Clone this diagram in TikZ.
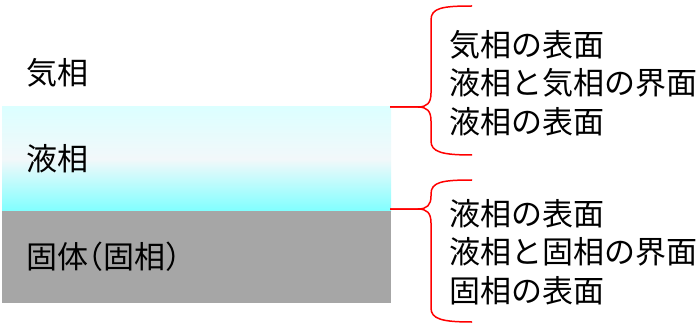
\documentclass[tikz,border=0pt]{standalone}
\usepackage{fontspec}
\newfontfamily\jpfont{Noto Sans CJK JP}
\definecolor{liqtop}{RGB}{220,255,255}
\definecolor{liqmid}{RGB}{242,248,250}
\definecolor{liqbot}{RGB}{128,255,255}
\definecolor{solidgray}{RGB}{166,166,166}
\definecolor{bracered}{RGB}{255,0,0}
\begin{document}
\begin{tikzpicture}[x=1pt,y=-1pt,
  lbl/.style={font=\jpfont\fontsize{31}{38.5}\selectfont, inner sep=0pt, anchor=west, align=left},
  brace/.style={draw=bracered, line width=1.5pt, line join=round}]
\useasboundingbox (0,0) rectangle (698,323);
% layers
\shade[top color=liqtop, bottom color=liqbot, middle color=liqmid, shading angle=0] (2,107) rectangle (391,211);
\fill[solidgray] (2,211) rectangle (391,303);
% labels
\node[lbl] (gas) at (26,73) {気相};
\node[lbl] (liq) at (26,159) {液相};
\node[lbl] (sol) at (26,257) {固体\kern-16pt（固相）};
\node[lbl] (t1) at (449,83) {気相の表面\\液相と気相の界面\\液相の表面};
\node[lbl] (t2) at (449,252) {液相の表面\\液相と固相の界面\\固相の表面};
% braces
\coordinate (tip1) at (390,107);
\coordinate (tip2) at (390,209);
\draw[brace] (472,6) .. controls (442,6) and (431,8) .. (431,20) -- (431,93)
  .. controls (431,103) and (427,107) .. (418,107) -- (tip1);
\draw[brace] (tip1) -- (418,107) .. controls (427,107) and (431,111) .. (431,121) -- (431,141)
  .. controls (431,152) and (442,155) .. (472,155);
\draw[brace] (472,180) .. controls (442,180) and (431,182) .. (431,194) -- (431,196)
  .. controls (431,205) and (427,209) .. (418,209) -- (tip2);
\draw[brace] (tip2) -- (418,209) .. controls (427,209) and (431,213) .. (431,223) -- (431,308)
  .. controls (431,319) and (442,322) .. (472,322);
\end{tikzpicture}
\end{document}
